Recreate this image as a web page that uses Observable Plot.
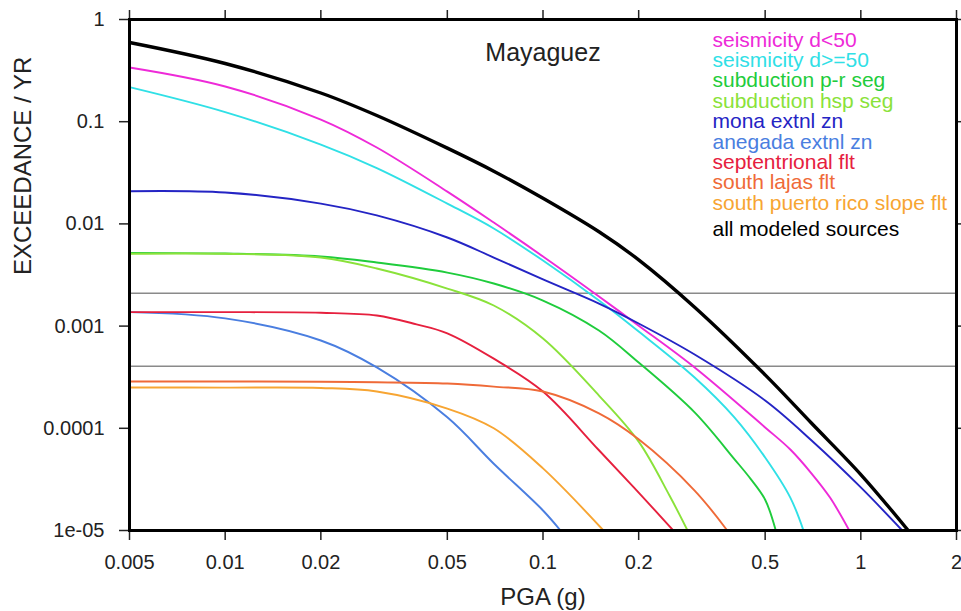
<!DOCTYPE html>
<html>
<head>
<meta charset="utf-8">
<script src="https://cdn.jsdelivr.net/npm/d3@7"></script>
<script src="https://cdn.jsdelivr.net/npm/@observablehq/plot@0.6"></script>
<style>
  html, body { margin: 0; padding: 0; background: #fff; }
  #chart { width: 961px; height: 611px; }
</style>
</head>
<body>
<div id="chart"></div>
<script>
// PGA grid (g) on which curves were read; null = no reading at that level
const pgaGrid = [0.005, 0.01, 0.02, 0.03, 0.04, 0.05, 0.07, 0.1, 0.15, 0.2, 0.25, 0.3, 0.4, 0.45, 0.5, 0.6, 0.7, 0.8, 1.0];

// Annual exceedance rates per source
const seismicityShallow = [0.339, 0.221, 0.105, 0.0559, null, 0.0207, 0.0103, 0.0048, 0.00195, 0.00101, null, 0.000394, null, null, 0.000102, 6.2e-5, 3.61e-5, 2.1e-5];
const seismicityDeep    = [0.2176, 0.124, 0.0598, 0.0352, null, 0.0158, 0.00902, 0.00438, 0.00178, 0.000885, null, 0.000314, 0.000128, null, 5.18e-5, 2.1e-5];
const subductionPR      = [0.00521, 0.00513, 0.0048, 0.00419, null, 0.00334, 0.00261, 0.00178, 0.000906, 0.00044, null, 0.000143, 5.0e-5, 3.2e-5, 2.0e-5];
const subductionHSP     = [0.0051, 0.0051, 0.00469, 0.00366, null, 0.00233, 0.00159, 0.000756, 0.000209, 7.4e-5, 2.2e-5];
const monaExt           = [0.0209, 0.0203, 0.0158, 0.0121, null, 0.00736, 0.00469, 0.00286, 0.00166, 0.00106, null, 0.000527, null, null, 0.000187, null, 7.6e-5, null, 2.64e-5];
const anegadaExt        = [0.00137, 0.00119, 0.000723, 0.000394, null, 0.000128, 4.5e-5, 1.57e-5];
const septentrional     = [0.00137, 0.00137, 0.00135, 0.00127, 0.00104, 0.00085, 0.00048, 0.000229, 6.1e-5, 2.35e-5];
const southLajas        = [0.000287, 0.000287, 0.000285, 0.000282, null, 0.000274, 0.000256, 0.000229, 0.00014, 7.8e-5, null, 2.46e-5];
const southPRSlope      = [0.000251, 0.00025, 0.000248, 0.000229, null, 0.000156, 0.0001, 4.05e-5];
const allSources        = [0.596, 0.371, 0.191, 0.115, null, 0.0551, 0.0328, 0.0178, 0.00837, 0.00445, null, 0.00153, null, null, 0.000333, null, 0.000112, null, 3.53e-5];

// PGA where each curve reaches the 1e-05 floor of the plot
const floorRate = 1e-5;
const endPga = [0.92, 0.66, 0.54, 0.285, 1.35, 0.1135, 0.257, 0.38, 0.155, 1.41];

const seriesNames = [
  "seismicity d<50", "seismicity d>=50", "subduction p-r seg", "subduction hsp seg",
  "mona extnl zn", "anegada extnl zn", "septentrional flt", "south lajas flt",
  "south puerto rico slope flt", "all modeled sources"
];
const seriesColors = [
  "#ee2ad8", "#30e0e6", "#1fcc3c", "#8ae23a",
  "#2424c4", "#4a7ee0", "#e6203e", "#ef6a38",
  "#f7a532", "#000000"
];
const seriesValues = [seismicityShallow, seismicityDeep, subductionPR, subductionHSP,
  monaExt, anegadaExt, septentrional, southLajas, southPRSlope, allSources];

// Reference hazard levels (10% and 2% in 50 years)
const hazardLevels = [0.0021, 0.000404];

const xTicks = [0.005, 0.01, 0.02, 0.05, 0.1, 0.2, 0.5, 1, 2];
const xTickLabels = ["0.005", "0.01", "0.02", "0.05", "0.1", "0.2", "0.5", "1", "2"];
const yTicks = [1e-5, 1e-4, 1e-3, 1e-2, 1e-1, 1];
const yTickLabels = ["1e-05", "0.0001", "0.001", "0.01", "0.1", "1"];

const siteName = "Mayaguez";
const xLabel = "PGA (g)";
const yLabel = "EXCEEDANCE / YR";

// Build long table
const rows = [];
seriesNames.forEach((name, s) => {
  seriesValues[s].forEach((v, i) => {
    if (v != null) rows.push({series: name, pga: pgaGrid[i], rate: v});
  });
  rows.push({series: name, pga: endPga[s], rate: floorRate});
});

const font = "'Liberation Sans', Arial, Helvetica, sans-serif";
const txt = "#222";
const noLabel = () => "";

const lineMarks = seriesNames.map((name, s) =>
  Plot.line(rows.filter(d => d.series === name), {
    x: "pga", y: "rate",
    stroke: seriesColors[s],
    strokeWidth: name === "all modeled sources" ? 3.4 : 1.9,
    curve: "catmull-rom",
    clip: true
  })
);

const legendMarks = seriesNames.map((name, i) =>
  Plot.text([name], {
    frameAnchor: "top-left",
    textAnchor: "start",
    lineAnchor: "middle",
    dx: 583,
    dy: i < seriesNames.length - 1 ? 20.3 + 20.4 * i : 209.3,
    fill: seriesColors[i],
    fontSize: 21
  })
);

const chart = Plot.plot({
  width: 961,
  height: 611,
  marginLeft: 129,
  marginRight: 5,
  marginTop: 19,
  marginBottom: 81,
  style: {fontFamily: font, fontSize: "20px", color: txt, background: "#fff"},
  x: {type: "log", domain: [0.005, 2], axis: null},
  y: {type: "log", domain: [1e-5, 1], axis: null},
  marks: [
    Plot.ruleY(hazardLevels, {stroke: "#8a8a8a", strokeWidth: 1.5}),
    ...lineMarks,
    Plot.axisX({anchor: "bottom", ticks: xTicks, tickFormat: noLabel, tickSize: 10, strokeWidth: 1.5, label: null}),
    Plot.axisX({anchor: "top", ticks: xTicks, tickFormat: noLabel, tickSize: 10, strokeWidth: 1.5, label: null}),
    Plot.axisY({anchor: "left", ticks: yTicks, tickFormat: noLabel, tickSize: 10, strokeWidth: 1.5, label: null}),
    Plot.axisY({anchor: "right", ticks: yTicks, tickFormat: noLabel, tickSize: 10, strokeWidth: 1.5, label: null}),
    Plot.text(xTicks, {x: xTicks, text: xTickLabels, frameAnchor: "bottom", lineAnchor: "top", dy: 24, fontSize: 20, fill: txt}),
    Plot.text(yTicks, {y: yTicks, text: yTickLabels, frameAnchor: "left", textAnchor: "end", lineAnchor: "middle", dx: -25, fontSize: 20, fill: txt}),
    Plot.frame({stroke: "#000", strokeWidth: 3}),
    Plot.text([siteName], {frameAnchor: "top", lineAnchor: "middle", dy: 33, fontSize: 25, fill: txt}),
    ...legendMarks,
    Plot.text([xLabel], {frameAnchor: "bottom", lineAnchor: "middle", dy: 67, fontSize: 24, fill: txt}),
    Plot.text([yLabel], {frameAnchor: "left", lineAnchor: "middle", rotate: -90, dx: -106, fontSize: 24, fill: txt})
  ]
});

document.getElementById("chart").appendChild(chart);
</script>
</body>
</html>
